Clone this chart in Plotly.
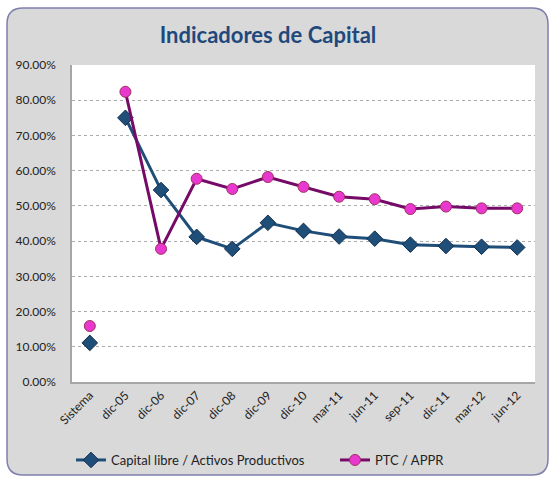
import plotly.graph_objects as go

categories = ["Sistema", "dic-05", "dic-06", "dic-07", "dic-08", "dic-09", "dic-10",
              "mar-11", "jun-11", "sep-11", "dic-11", "mar-12", "jun-12"]
capital_libre = [0.111, 0.750, 0.545, 0.412, 0.378, 0.452, 0.429,
                 0.413, 0.407, 0.390, 0.386, 0.384, 0.382]
ptc_appr = [0.159, 0.824, 0.378, 0.577, 0.548, 0.582, 0.554,
            0.526, 0.519, 0.491, 0.498, 0.493, 0.493]

W, H = 554, 480
L, R, T, B = 72, 19, 65, 98
pw, ph = W - L - R, H - T - B

def px(x):
    return (x - L) / pw

def py(y):
    return (H - B - y) / ph

BLUE = "#1f4e79"
BLUE_EDGE = "#12304f"
PINK = "#e838cf"
PINK_EDGE = "#a03060"
PURPLE = "#760a68"

fig = go.Figure()
fig.add_trace(go.Scatter(
    x=categories[1:], y=capital_libre[1:], mode="lines+markers",
    name="Capital libre / Activos Productivos", legend="legend",
    line=dict(color=BLUE, width=3),
    marker=dict(symbol="diamond", size=12, color=BLUE, line=dict(color=BLUE_EDGE, width=1)),
))
fig.add_trace(go.Scatter(
    x=categories[:1], y=capital_libre[:1], mode="markers", showlegend=False,
    marker=dict(symbol="diamond", size=12, color=BLUE, line=dict(color=BLUE_EDGE, width=1)),
))
fig.add_trace(go.Scatter(
    x=categories[1:], y=ptc_appr[1:], mode="lines+markers",
    name="PTC / APPR", legend="legend2",
    line=dict(color=PURPLE, width=3),
    marker=dict(symbol="circle", size=11, color=PINK, line=dict(color=PINK_EDGE, width=1)),
))
fig.add_trace(go.Scatter(
    x=categories[:1], y=ptc_appr[:1], mode="markers", showlegend=False,
    marker=dict(symbol="circle", size=11, color=PINK, line=dict(color=PINK_EDGE, width=1)),
))

# rounded outer frame
x0, x1 = 7, 548
y0, y1 = 8, 475
r = 16
rx, ry = r / pw, r / ph
X0, X1, Y0, Y1 = px(x0), px(x1), py(y1), py(y0)
path = (f"M {X0+rx},{Y1} L {X1-rx},{Y1} Q {X1},{Y1} {X1},{Y1-ry} "
        f"L {X1},{Y0+ry} Q {X1},{Y0} {X1-rx},{Y0} "
        f"L {X0+rx},{Y0} Q {X0},{Y0} {X0},{Y0+ry} "
        f"L {X0},{Y1-ry} Q {X0},{Y1} {X0+rx},{Y1} Z")

legend_common = dict(orientation="h", xref="container", yref="container",
                     xanchor="left", y=1 - 460 / H, yanchor="middle",
                     bgcolor="rgba(0,0,0,0)", font=dict(size=13, color="#222222"))

fig.update_layout(
    width=W, height=H,
    margin=dict(l=L, r=R, t=T, b=B),
    paper_bgcolor="white",
    plot_bgcolor="white",
    font=dict(family="Lato, Open Sans, sans-serif", size=11, color="#222222"),
    title=dict(text="<b>Indicadores de Capital</b>", x=268 / W, xanchor="center",
               y=1 - 35 / H, yanchor="middle", yref="container",
               font=dict(family="Lato, Open Sans, sans-serif", size=22, color="#1f497d")),
    shapes=[
        dict(type="path", path=path, xref="paper", yref="paper", layer="below",
             fillcolor="#d9d9d9", line=dict(color="#7f7fae", width=1.5)),
        dict(type="rect", x0=0, x1=1, y0=0, y1=1, xref="paper", yref="paper",
             layer="below", fillcolor="white", line=dict(width=0)),
    ],
    showlegend=True,
    legend=dict(x=71 / W, **legend_common),
    legend2=dict(x=335 / W, **legend_common),
)
fig.update_xaxes(
    type="category", categoryorder="array", categoryarray=categories,
    range=[-0.5, 12.5], tickangle=-45,
    showline=True, linecolor="#a6a6a6", linewidth=1.5, showgrid=False,
    ticks="", tickfont=dict(size=12),
)
fig.update_yaxes(
    range=[0, 0.9], dtick=0.1, tickformat=".2%",
    showline=True, linecolor="#a6a6a6", linewidth=1.5,
    showgrid=True, gridcolor="#ababab", griddash="dot", gridwidth=1,
    zeroline=False, ticks="", ticklabelstandoff=12, tickfont=dict(size=12),
)

fig.write_html(
    "out.html",
    config={"displayModeBar": False},
    post_script="document.body.style.margin='0';document.body.style.overflow='hidden';",
)
